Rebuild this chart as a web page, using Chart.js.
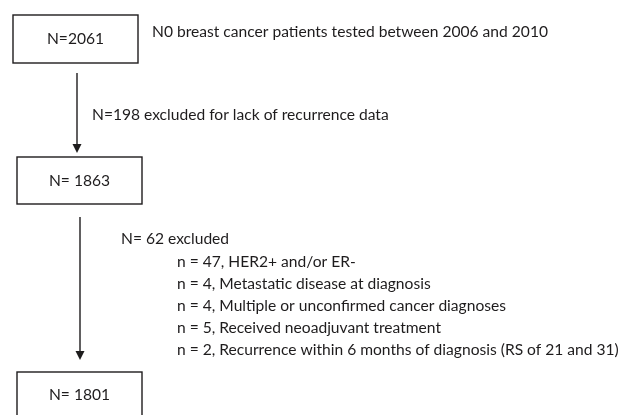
<!DOCTYPE html>
<html>
<head>
<meta charset="utf-8">
<script src="https://cdn.jsdelivr.net/npm/chart.js@4.4.1/dist/chart.umd.min.js"></script>
<style>
  html, body { margin: 0; padding: 0; background: #fff; }
  #wrap { width: 622px; height: 415px; position: relative; }
</style>
</head>
<body>
<div id="wrap"><canvas id="flow"></canvas></div>
<script>
// flow data
const stageLabels = ['N=2061', 'N= 1863', 'N= 1801'];
const stageCounts = [2061, 1863, 1801];
const cohortNote = 'N0 breast cancer patients tested between 2006 and 2010';
const excludedHeads = ['N=198 excluded for lack of recurrence data', 'N= 62 excluded'];
const excludedCounts = [198, 62];
const reasonCounts = [47, 4, 4, 5, 2];
const reasonLabels = [
    'HER2+ and/or ER-',
    'Metastatic disease at diagnosis',
    'Multiple or unconfirmed cancer diagnoses',
    'Received neoadjuvant treatment',
    'Recurrence within 6 months of diagnosis (RS of 21 and 31)'
];

// layout in page units (the scales run 0..622 / 0..415)
const boxes = [
    { x0: 13, x1: 138, y0: 15, y1: 63 },
    { x0: 17, x1: 142, y0: 157, y1: 204 },
    { x0: 17, x1: 142, y0: 372, y1: 419 }
];
const arrows = [
    { x: 77, y0: 73, y1: 153 },
    { x: 80, y0: 217, y1: 360 }
];
const noteAt = { x: 152, y: 32 };
const headAt = [{ x: 92, y: 115 }, { x: 121, y: 239 }];
const reasonAt = { x: 177, y: 262, step: 22 };

const ink = '#1e1c1d';
const font = '15.6px Lato, "Open Sans", sans-serif';

const flowPlugin = {
    id: 'flow',
    afterDraw(chart) {
        const ctx = chart.ctx;
        const sx = chart.scales.x;
        const sy = chart.scales.y;
        const px = v => sx.getPixelForValue(v);
        const py = v => sy.getPixelForValue(v);

        ctx.save();
        ctx.strokeStyle = ink;
        ctx.fillStyle = ink;
        ctx.lineWidth = 1.4;
        ctx.font = font;

        // boxes with their counts
        boxes.forEach((b, i) => {
            const x0 = px(b.x0), x1 = px(b.x1), y0 = py(b.y0), y1 = py(b.y1);
            ctx.strokeRect(x0, y0, x1 - x0, y1 - y0);
            ctx.textAlign = 'center';
            ctx.textBaseline = 'middle';
            const cy = i === 2 ? py(b.y0 + 23) : (y0 + y1) / 2;
            ctx.fillText(stageLabels[i], (x0 + x1) / 2, cy);
        });

        // arrows
        arrows.forEach(a => {
            const x = px(a.x), y0 = py(a.y0), y1 = py(a.y1);
            ctx.beginPath();
            ctx.moveTo(x, y0);
            ctx.lineTo(x, y1 - 8);
            ctx.stroke();
            ctx.beginPath();
            ctx.moveTo(x - 4.5, y1 - 9);
            ctx.lineTo(x + 4.5, y1 - 9);
            ctx.lineTo(x, y1);
            ctx.closePath();
            ctx.fill();
        });

        // texts
        ctx.textAlign = 'left';
        ctx.textBaseline = 'middle';
        ctx.fillText(cohortNote, px(noteAt.x), py(noteAt.y));
        excludedHeads.forEach((t, i) => {
            ctx.fillText(t, px(headAt[i].x), py(headAt[i].y));
        });
        reasonLabels.forEach((t, i) => {
            const line = 'n = ' + reasonCounts[i] + ', ' + t;
            ctx.fillText(line, px(reasonAt.x), py(reasonAt.y + i * reasonAt.step));
        });
        ctx.restore();
    }
};

new Chart(document.getElementById('flow'), {
    type: 'scatter',
    data: {
        datasets: [{
            data: stageCounts.map((n, i) => ({ x: (boxes[i].x0 + boxes[i].x1) / 2, y: (boxes[i].y0 + boxes[i].y1) / 2 })),
            pointRadius: 0
        }]
    },
    options: {
        responsive: true,
        maintainAspectRatio: false,
        animation: false,
        layout: { padding: 0 },
        plugins: { legend: { display: false }, tooltip: { enabled: false } },
        scales: {
            x: { type: 'linear', min: 0, max: 622, display: false },
            y: { type: 'linear', min: 0, max: 415, reverse: true, display: false }
        }
    },
    plugins: [flowPlugin]
});
</script>
</body>
</html>
